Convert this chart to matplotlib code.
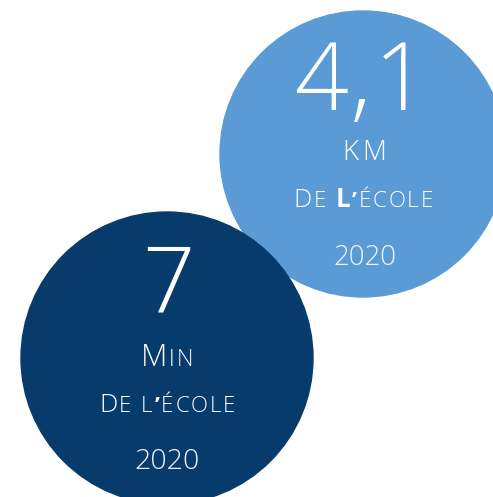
import matplotlib
matplotlib.use("Agg")
import matplotlib.pyplot as plt
from matplotlib.patches import Circle

# values shown in the two bubbles
values = ["4,1", "7"]
years = ["2020", "2020"]
# unit lines as small-caps runs: (text, big-letter?, bold?)
unit_runs = [
    [("K", True, False), ("M", True, False)],
    [("M", True, False), ("I", False, False), ("N", False, False)],
]
place_runs = [
    [("D", True, False), ("E", False, False), (" ", False, False), ("L", True, True), ("\u2019", False, True),
     ("\u00c9", False, False), ("C", False, False), ("O", False, False), ("L", False, False), ("E", False, False)],
    [("D", True, False), ("E", False, False), (" ", False, False), ("L", False, False), ("\u2019", False, True),
     ("\u00c9", False, False), ("C", False, False), ("O", False, False), ("L", False, False), ("E", False, False)],
]
colors = ["#5B9BD5", "#073B6C"]

W, H = 493, 497
fig = plt.figure(figsize=(W / 100, H / 100), dpi=100)
ax = fig.add_axes([0, 0, 1, 1])
ax.set_xlim(0, W)
ax.set_ylim(H, 0)
ax.set_aspect("equal")
ax.axis("off")

FONT = "Open Sans"
centers = [(363, 154), (167, 358)]
radius = [143, 146]
renderer = fig.canvas.get_renderer()


def draw_runs(x, y, runs, big, small, color="white", gap=2.0):
    texts = []
    for s, is_big, bold in runs:
        t = ax.text(0, y, s, fontsize=big if is_big else small, family=FONT,
                    fontweight="bold" if bold else "light", color=color,
                    ha="left", va="baseline")
        texts.append(t)
    widths = []
    for (s, _, _), t in zip(runs, texts):
        if s == " ":
            widths.append(small * 0.5)
        else:
            widths.append(t.get_window_extent(renderer).width + gap)
    x0 = x - (sum(widths) - gap) / 2
    for t, w in zip(texts, widths):
        t.set_x(x0)
        x0 += w


for i in range(2):
    cx, cy = centers[i]
    ax.add_patch(Circle((cx, cy), radius[i], color=colors[i], zorder=0))

# light bubble
cx, cy = centers[0]
draw_runs(cx - 2, 110, [(c, True, False) for c in values[0]], 68, 68, gap=3)
draw_runs(cx + 1, 160, unit_runs[0], 20, 20, gap=4)
draw_runs(cx, 207, place_runs[0], 18.5, 16, gap=1.8)
ax.text(cx + 2, 265, years[0], fontsize=20, family=FONT, fontweight="light",
        color="#EEF3F9", ha="center", va="baseline")

# dark bubble
cx, cy = centers[1]
ax.text(cx + 1, 313, values[1], fontsize=66, family=FONT, fontweight="light",
        color="white", ha="center", va="baseline")
draw_runs(cx, 366, unit_runs[1], 22, 16.5)
draw_runs(cx, 412, place_runs[1], 18.5, 16, gap=1.8)
ax.text(cx, 469, years[1], fontsize=20.5, family=FONT, fontweight="light",
        color="#EEF3F9", ha="center", va="baseline")

fig.savefig("out.png", dpi=100)
